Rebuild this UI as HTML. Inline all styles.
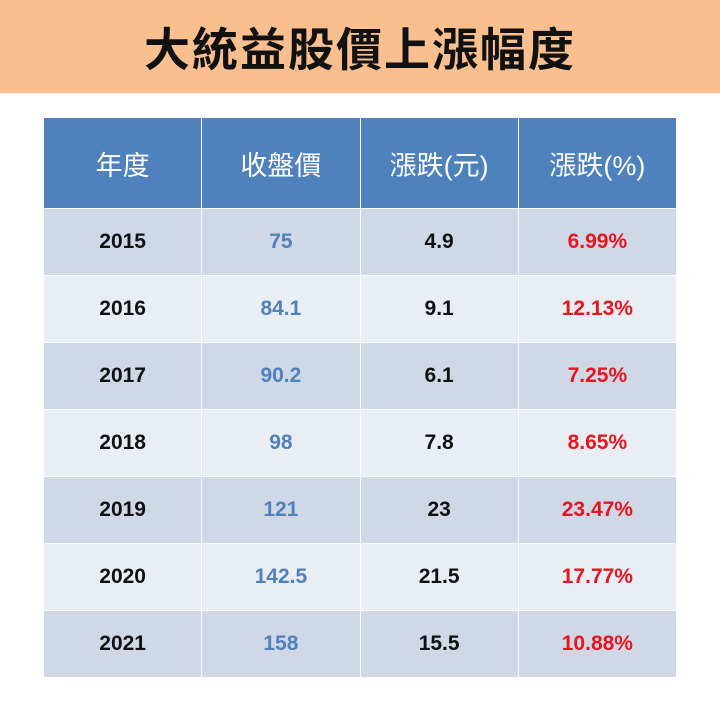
<!DOCTYPE html>
<html><head><meta charset="utf-8"><style>
body{margin:0;width:720px;height:720px;background:#fff;position:relative;overflow:hidden;font-family:"Liberation Sans","Noto Sans CJK TC",sans-serif}
#banner{position:absolute;left:0;top:0;width:720px;height:93px;background:#F9BF8F;display:flex;align-items:center;justify-content:center;font-size:46px;font-weight:bold;color:#111;letter-spacing:2px}
#tbl{position:absolute;left:43px;top:117px;width:634px;border-collapse:collapse;table-layout:fixed}
#tbl td,#tbl th{border:1px solid #fff;text-align:center;padding:0;font-weight:bold;font-size:21px}
#tbl th{background:#4F81BD;color:#fff;height:90px;font-size:27px;font-weight:normal}
#tbl tr.o td{background:#D0D8E8}
#tbl tr.e td{background:#E9EDF4}
#tbl td{height:66px;color:#111}
#tbl td.p{color:#4F81BD}
#tbl td.r{color:#E8141E}
</style></head><body>
<div id="banner">大統益股價上漲幅度</div>
<table id="tbl">
<tr><th>年度</th><th>收盤價</th><th>漲跌(元)</th><th>漲跌(%)</th></tr>
<tr class="o"><td>2015</td><td class="p">75</td><td>4.9</td><td class="r">6.99%</td></tr>
<tr class="e"><td>2016</td><td class="p">84.1</td><td>9.1</td><td class="r">12.13%</td></tr>
<tr class="o"><td>2017</td><td class="p">90.2</td><td>6.1</td><td class="r">7.25%</td></tr>
<tr class="e"><td>2018</td><td class="p">98</td><td>7.8</td><td class="r">8.65%</td></tr>
<tr class="o"><td>2019</td><td class="p">121</td><td>23</td><td class="r">23.47%</td></tr>
<tr class="e"><td>2020</td><td class="p">142.5</td><td>21.5</td><td class="r">17.77%</td></tr>
<tr class="o"><td>2021</td><td class="p">158</td><td>15.5</td><td class="r">10.88%</td></tr>
</table>
</body></html>
